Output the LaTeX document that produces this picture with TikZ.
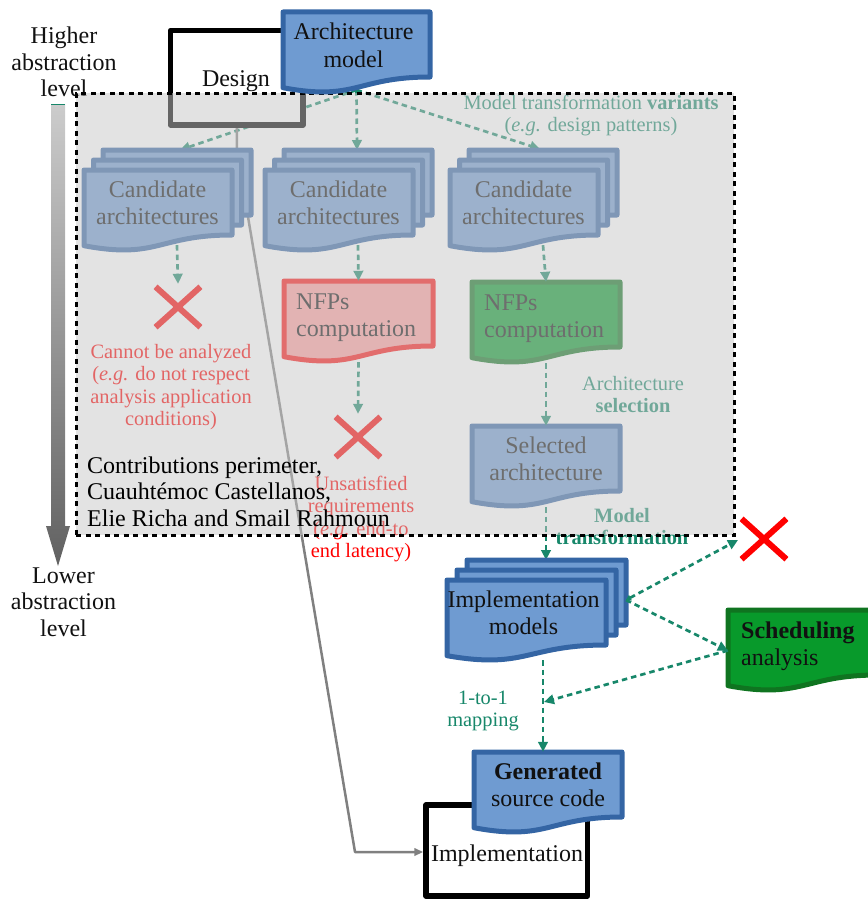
\documentclass[tikz,border=0pt]{standalone}
\usepackage{fontspec}
\setmainfont{Liberation Serif}
\usetikzlibrary{arrows.meta,calc}
\definecolor{docblue}{HTML}{6F9BD1}
\definecolor{docblueline}{HTML}{3465A4}
\definecolor{docred}{HTML}{FF9F9F}
\definecolor{docredline}{HTML}{FF1010}
\definecolor{docgreen}{HTML}{089A2B}
\definecolor{docgreenline}{HTML}{0F7420}
\definecolor{flow}{HTML}{17876A}
\definecolor{veil}{RGB}{200,200,200}
\definecolor{ink}{HTML}{111111}
\newcommand{\mlines}[2][c]{\begin{tabular}[t]{@{}#1@{}}#2\end{tabular}}
% name, left, top, width, fill, line
\newcommand{\docshape}[6]{%
  \path[docline,fill=#5,draw=#6] (#2,#3) -- (#2+#4,#3) -- (#2+#4,#3+65)
    .. controls (#2+0.5*#4,#3+65) and (#2+0.5*#4,#3+89.6) .. (#2,#3+75.7) -- cycle;
  \node[inner sep=0pt,minimum width=#4 pt,minimum height=81pt] (#1) at (#2+0.5*#4,#3+40.5) {};
}
\newcommand{\blockstack}[6]{%
  \docshape{#1a}{#2+#4}{#3-20}{#5}{#6}{docblueline}
  \docshape{#1b}{#2+#4*0.5}{#3-10}{#5}{#6}{docblueline}
  \docshape{#1c}{#2}{#3}{#5}{#6}{docblueline}
}
\newcommand{\crossmark}[4]{%
  \node[inner sep=0pt,minimum width=44.5pt,minimum height=40pt] (#1) at (#2,#3) {};
  \draw[#4,line width=6pt] (#1.north west) -- (#1.south east) (#1.north east) -- (#1.south west);
}
\tikzset{
  docline/.style={line width=5pt,line join=round},
  framebox/.style={draw=black,fill=white,line width=5.5pt,line join=round,inner sep=0pt},
  flowline/.style={draw=flow,line width=2.7pt,dash pattern=on 5.5pt off 4pt,
    -{Stealth[length=10pt,width=9.5pt,inset=0pt]}},
  traceline/.style={draw=black!50,line width=2.5pt,line join=round,
    -{Stealth[length=9pt,width=7.5pt,inset=0pt]}},
  lbl/.style={inner sep=0pt,anchor=base,text=ink,font=\fontsize{24}{27.3}\selectfont},
  lblaxis/.style={inner sep=0pt,anchor=base,text=ink,font=\fontsize{24}{26.5}\selectfont},
  lblsmall/.style={inner sep=0pt,anchor=base,font=\fontsize{20.4}{22.5}\selectfont},
}
\begin{document}
\begin{tikzpicture}[x=1pt,y=-1pt]
\useasboundingbox (0,0) rectangle (867,899);
% abstraction axis
\shade[top color=black!20,bottom color=black!62] (51,104) -- (65,104) -- (65,526) -- (70,526) -- (58,566) -- (46,526) -- (51,526) -- cycle;
\draw[flow,line width=0.6pt] (51,104) -- (65,104);
\node[lblaxis] (higher) at (64,44) {\mlines{Higher\\abstraction\\level}};
\node[lblaxis] (lower) at (63.5,583) {\mlines{Lower\\abstraction\\level}};

% implementation frame and ports
\node[framebox,minimum width=161.5pt,minimum height=91pt] (implbox) at (506.75,850.5) {};
\coordinate (tracestart) at (236.75,125);
\coordinate (tracebend1) at (236.75,150);
\coordinate (tracebend2) at (355,852);
\coordinate (archport) at (356.5,90);
\coordinate (cand1in) at (180,150);
\coordinate (cand2in) at (357,150);
\coordinate (cand3in) at (540,149);

% connectors under the documents
\draw[flowline] (archport) -- (cand1in);
\draw[flowline] (archport) -- (cand2in);
\draw[flowline] (archport) -- (cand3in);
\draw[traceline] (tracestart) -- (tracebend1) -- (tracebend2) -- (tracebend2 -| implbox.west);
\node[framebox,minimum width=132.5pt,minimum height=94.5pt] (designbox) at (236.75,77.75) {};
\node[lbl] (designlbl) at (236,86) {Design};

% candidates row
\blockstack{cone}{84}{170}{19}{148}{docblue}
\blockstack{ctwo}{265}{170}{19}{148}{docblue}
\blockstack{cthree}{450}{170}{19}{148}{docblue}
\node[lbl] (conet) at (157.5,197) {\mlines{Candidate\\architectures}};
\node[lbl] (ctwot) at (338.5,197) {\mlines{Candidate\\architectures}};
\node[lbl] (cthreet) at (523.5,197) {\mlines{Candidate\\architectures}};

\crossmark{xone}{178}{307}{red}
\crossmark{xtwo}{358}{437}{red}

\docshape{nfpred}{284}{281}{149}{docred}{docredline}
\node[lbl,anchor=base west] (nfpredt) at (296,309) {\mlines[l]{NFPs\\computation}};
\docshape{nfpgreen}{472}{282}{148}{docgreen}{docgreenline}
\node[lbl,anchor=base west] (nfpgreent) at (484,310) {\mlines[l]{NFPs\\computation}};
\docshape{selarch}{472}{426}{148}{docblue}{docblueline}
\node[lbl] (selarcht) at (546,453) {\mlines{Selected\\architecture}};

\draw[flowline] (conea.south) ++(0,14) -- ([yshift=3pt]xone.north);
\draw[flowline] (ctwoa.south) ++(0,14) -- (nfpred.north);
\draw[flowline] (nfpred.south) -- ([yshift=3pt]xtwo.north);
\draw[flowline] (cthreea.south) ++(0,14) -- (nfpgreen.north);
\draw[flowline] (nfpgreen.south) -- (selarch.north);

% labels under the veil
\node[lblsmall,text=red] (unsat) at (361,490) {\mlines{Unsatisfied\\requirements\\(\textit{e.g.} end-to\\end latency)}};
\node[lblsmall,text=red] (noana) at (171,358) {\mlines{Cannot be analyzed\\(\textit{e.g.} do not respect\\analysis application\\conditions)}};
\node[lblsmall,text=flow] (variants) at (591,109) {\mlines{Model transformation \textbf{variants}\\(\textit{e.g.} design patterns)}};
\node[lblsmall,text=flow] (archsel) at (633,390) {\mlines{Architecture\\\textbf{selection}}};
\node[lblsmall,text=flow] (modeltr) at (622,522) {\mlines{\textbf{Model}\\\textbf{transformation}}};
\coordinate (implin) at (546,560);
\draw[flowline] (selarch.south) -- (implin);

% translucent perimeter
\node[draw=black,fill=veil,fill opacity=0.51,draw opacity=1,line width=3pt,dash pattern=on 5pt off 4.5pt,minimum width=658pt,minimum height=442pt,inner sep=0pt] (perimeter) at (405,314) {};
\node[lbl,text=black,anchor=base west] (contrib) at (87,473) {\fontsize{24}{26.5}\selectfont\mlines[l]{Contributions perimeter,\\Cuauhtémoc Castellanos,\\Elie Richa and Smail Rahmoun}};

% architecture model on top
\docshape{archmodel}{283}{12}{147}{docblue}{docblueline}
\node[lbl] (archt) at (353.5,40) {\mlines{Architecture\\model}};

% implementation stack
\blockstack{impl}{447}{580}{20}{159}{docblue}
\node[lbl] (implt) at (523.5,607) {\mlines{Implementation\\models}};

\crossmark{xthree}{764}{539}{red}
\docshape{sched}{728}{610}{150}{docgreen}{docgreenline}
\node[lbl,anchor=base west] (schedt) at (741,638) {\mlines[l]{\textbf{Scheduling}\\analysis}};

\docshape{gencode}{474}{752}{148}{docblue}{docblueline}
\node[lbl] (gent) at (548,779) {\mlines{\textbf{Generated}\\source code}};
\node[lbl] (implboxt) at (507,861) {Implementation};

\coordinate (implport) at (626,600);
\coordinate (mapjoin) at (544,702);
\coordinate (impldown) at (543,660);
\coordinate (xthreein) at (738,540);
\draw[flowline,{Stealth[length=5pt,width=6pt,inset=0pt]}-{Stealth[length=10pt,width=9.5pt,inset=0pt]}] (implport) -- (xthreein);
\draw[flowline] (implport) -- (sched.west);
\draw[flowline] (sched.west) -- (mapjoin);
\draw[flowline] (impldown) -- (gencode.north -| impldown);
\node[lblsmall,text=flow] (onetoone) at (483,704) {\mlines{1-to-1\\mapping}};
\end{tikzpicture}
\end{document}
